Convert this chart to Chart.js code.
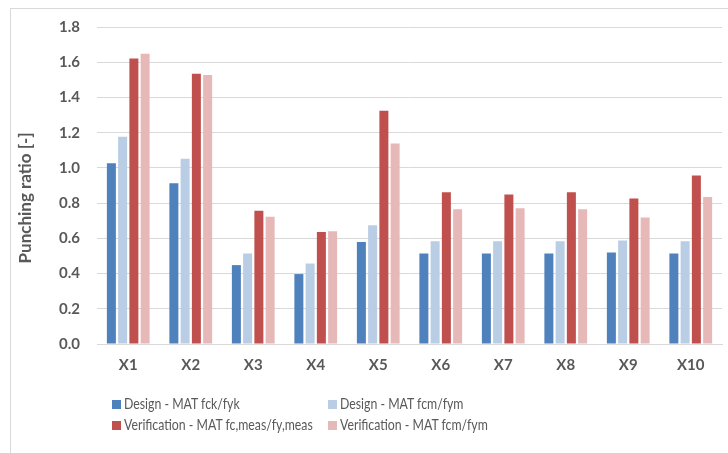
<!DOCTYPE html>
<html>
<head>
<meta charset="utf-8">
<script src="https://cdn.jsdelivr.net/npm/chart.js@4/dist/chart.umd.min.js"></script>
<style>
  html, body { margin: 0; padding: 0; background: #fff; }
  #wrap { position: relative; width: 728px; height: 453px; overflow: hidden; }
  #frame { position: absolute; left: 10px; top: 8px; width: 800px; height: 500px;
           border-top: 1px solid #d9d9d9; border-left: 1px solid #d9d9d9; }
  canvas { position: absolute; left: 0; top: 0; }
  #legend { position: absolute; left: 112px; top: 393px; width: 420px;
            font-family: Lato, "Liberation Sans", sans-serif; font-size: 15px; color: #595959; }
  .item { position: absolute; white-space: nowrap; line-height: 20px; }
  .box { display: inline-block; width: 9px; height: 9px; margin-right: 3px; vertical-align: 0px; }
  /* the original uses a narrow font; squeeze Lato to the same width */
  .txt { display: inline-block; transform: scaleX(0.82); transform-origin: left center; }
</style>
</head>
<body>
<div id="wrap">
  <div id="frame"></div>
  <canvas id="chart" width="728" height="453"></canvas>
  <div id="legend"></div>
</div>
<script>
const categories = ['X1', 'X2', 'X3', 'X4', 'X5', 'X6', 'X7', 'X8', 'X9', 'X10'];
const seriesNames = [
    'Design - MAT fck/fyk',
    'Design - MAT fcm/fym',
    'Verification - MAT fc,meas/fy,meas',
    'Verification - MAT fcm/fym'
];
const designFck = [1.027, 0.913, 0.448, 0.397, 0.579, 0.514, 0.514, 0.514, 0.520, 0.514];
const designFcm = [1.177, 1.052, 0.514, 0.457, 0.674, 0.583, 0.583, 0.583, 0.588, 0.583];
const verifMeas = [1.621, 1.534, 0.757, 0.636, 1.325, 0.862, 0.849, 0.862, 0.826, 0.957];
const verifFcm = [1.648, 1.528, 0.722, 0.640, 1.139, 0.765, 0.771, 0.765, 0.718, 0.835];
const yTicks = [0, 0.2, 0.4, 0.6, 0.8, 1.0, 1.2, 1.4, 1.6, 1.8];
const colors = ['#4F81BD', '#B9CDE5', '#C0504D', '#E6B9B8'];

const values = [designFck, designFcm, verifMeas, verifFcm];
const textColor = '#595959';
const fontFamily = 'Lato, "Liberation Sans", sans-serif';

const chart = new Chart(
    document.getElementById('chart'),
    {
        type: 'bar',
        data: {
            labels: categories,
            datasets: values.map((v, i) => ({
                label: seriesNames[i],
                data: v,
                backgroundColor: colors[i],
                borderWidth: 0,
                categoryPercentage: 0.72,
                barPercentage: 0.8
            }))
        },
        options: {
            responsive: false,
            animation: false,
            layout: {
                padding: { left: 10, right: 6, top: 27, bottom: 69 }
            },
            plugins: {
                legend: { display: false },
                tooltip: { enabled: false }
            },
            scales: {
                x: {
                    grid: { display: false, drawTicks: false },
                    border: { color: '#d9d9d9' },
                    ticks: {
                        color: textColor,
                        padding: 12,
                        font: { family: fontFamily, size: 15, weight: 'bold' }
                    },
                    afterFit: (scale) => { scale.height = 40; }
                },
                y: {
                    min: 0,
                    max: 1.8,
                    afterBuildTicks: (scale) => {
                        scale.ticks = yTicks.map(v => ({ value: v }));
                    },
                    grid: { color: '#d9d9d9', drawTicks: false },
                    border: { display: false },
                    ticks: {
                        color: textColor,
                        padding: 17,
                        font: { family: fontFamily, size: 15, weight: 'bold' },
                        callback: (v) => Number(v).toFixed(1)
                    },
                    title: {
                        display: true,
                        // trailing spaces push the title a bit lower, as in the original
                        text: 'Punching ratio [-]      ',
                        color: textColor,
                        padding: { top: 5, bottom: 0 },
                        font: { family: fontFamily, size: 17, weight: 'bold' }
                    },
                    afterFit: (scale) => { scale.width = 87; }
                }
            }
        }
    }
);

// legend laid out in two columns like the original
const legendEl = document.getElementById('legend');
chart.data.datasets.forEach((ds, i) => {
    const item = document.createElement('div');
    item.className = 'item';
    item.style.left = (i % 2 === 0 ? 0 : 216) + 'px';
    item.style.top = (i < 2 ? 0 : 21) + 'px';
    const box = document.createElement('span');
    box.className = 'box';
    box.style.background = ds.backgroundColor;
    const txt = document.createElement('span');
    txt.className = 'txt';
    txt.textContent = ds.label;
    item.appendChild(box);
    item.appendChild(txt);
    legendEl.appendChild(item);
});
</script>
</body>
</html>
